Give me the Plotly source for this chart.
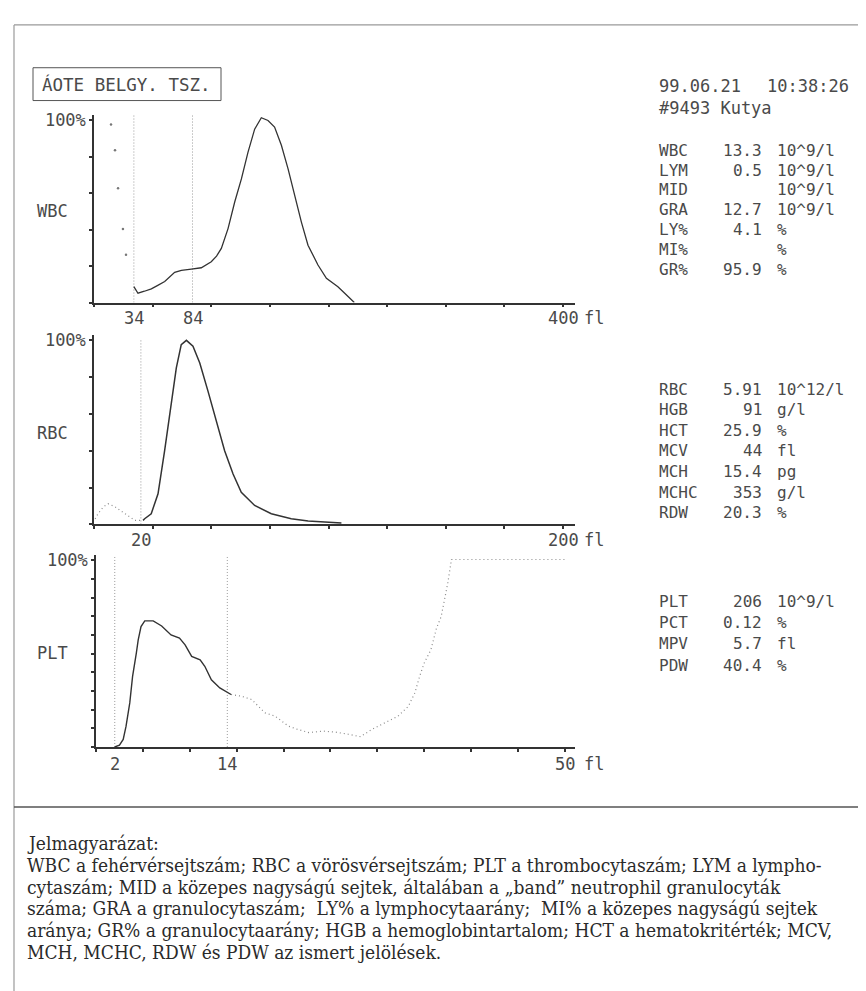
import plotly.graph_objects as go

# ---------------- data ----------------
wbc_x = [34, 37.5, 43, 48.9, 54, 60.3, 68.8, 74.5, 83, 91.5, 100, 104.5, 108.6, 114.3, 120, 125.7,
         131.3, 137, 142.7, 148.4, 154, 159.8, 165.5, 171.2, 176.8, 182.5, 191, 198.2, 208, 213.8,
         219.5, 222]
wbc_y = [8.7, 5.1, 6.2, 7.5, 9.3, 11.5, 16.6, 17.7, 18.4, 19.1, 22.4, 25.5, 29.7, 40.6, 55.2, 67.9,
         82.5, 95.2, 101.5, 100, 96.4, 86.4, 73.4, 58.8, 44.3, 31.5, 20.6, 13.3, 8.7, 5.1, 1.5, 0]
wbc_dot_x = [14.5, 17.9, 20.5, 24.7, 27.3]
wbc_dot_y = [97.8, 83.6, 62.8, 40.4, 26.2]
wbc_thresholds = [34, 84]

rbc_dot_x = [0.5, 1.7, 4, 6, 8.8, 11, 13.1, 15.5, 17.4, 20.9]
rbc_dot_y = [3, 5.8, 9.5, 11.2, 9.7, 7.8, 5.8, 3.8, 2.2, 2.2]
rbc_x = [20.9, 21.6, 24.4, 27.3, 30.1, 33, 35.1, 37.2, 39.4, 42.2, 45.1, 48.6, 52.2, 55.7, 59.3,
         62.8, 68.5, 75.6, 84.1, 91.3, 105.5]
rbc_y = [2.2, 3.1, 5.8, 16.6, 40, 67, 85, 97.7, 100, 96.8, 87.7, 72.4, 56.2, 40, 27.4,
         17.5, 10.3, 5.8, 3.1, 1.8, 0.7]
rbc_thresholds = [20]

plt_x = [2.0, 2.5, 2.9, 3.2, 3.6, 3.9, 4.3, 4.5, 4.8, 5.2, 6.1, 7.0, 8.0, 8.9, 9.5, 10.2, 11.1,
         11.6, 12.3, 13.2, 14.4]
plt_y = [0, 1, 4, 11, 23.6, 37.8, 50.3, 57.4, 64.5, 67.5, 67.5, 64.8, 60, 58.3, 54.7, 48.5, 46.7,
         43.2, 36, 31.6, 28.1]
plt_dot_x = [14.4, 15.5, 16.6, 18.0, 19.1, 20.5, 21.5, 22.7, 24.2, 25.5, 26.9, 28.2, 29.4, 30.8,
             32.2, 33.3, 34.0, 34.5, 35.0, 35.7, 36.3, 36.8, 37.2, 37.5, 37.9, 50]
plt_dot_y = [28.1, 27.2, 25.4, 18.3, 16.5, 11.2, 9.4, 7.7, 8.5, 8.0, 6.8, 5.5, 9.4, 13, 16.5,
             21.8, 29, 37.8, 45, 52, 63.6, 69.8, 80.4, 87.6, 100.4, 100.4]
plt_thresholds = [2, 14]

wbc_xticks = [0, 50, 100, 150, 200, 250, 300, 350, 400]
rbc_xticks = [0, 25, 50, 75, 100, 125, 150, 175, 200]
plt_xticks = [0, 5, 10, 15, 20, 25, 30, 35, 40, 45, 50]
wbc_yticks = [0, 20, 40, 60, 80, 100]
plt_yticks = [0, 10, 20, 30, 40, 50, 60, 70, 80, 90, 100]
top_label = "100%"

wbc_xlabels = ["34", "84", "400"]
wbc_xlabel_pos = [34, 84, 400]
rbc_xlabels = ["20", "200"]
rbc_xlabel_pos = [20, 200]
plt_xlabels = ["2", "14", "50"]
plt_xlabel_pos = [2, 14, 50]
unit_label = "fl"
panel_names = ["WBC", "RBC", "PLT"]

header_box = "ÁOTE BELGY. TSZ."
date_text = "99.06.21"
time_text = "10:38:26"
sample_text = "#9493 Kutya"

wbc_names = ["WBC", "LYM", "MID", "GRA", "LY%", "MI%", "GR%"]
wbc_vals = ["13.3", "0.5", "", "12.7", "4.1", "", "95.9"]
wbc_units = ["10^9/l", "10^9/l", "10^9/l", "10^9/l", "%", "%", "%"]
rbc_names = ["RBC", "HGB", "HCT", "MCV", "MCH", "MCHC", "RDW"]
rbc_vals = ["5.91", "91", "25.9", "44", "15.4", "353", "20.3"]
rbc_units = ["10^12/l", "g/l", "%", "fl", "pg", "g/l", "%"]
plt_names = ["PLT", "PCT", "MPV", "PDW"]
plt_vals = ["206", "0.12", "5.7", "40.4"]
plt_units = ["10^9/l", "%", "fl", "%"]

caption_lines = [
    "Jelmagyarázat:",
    "WBC a fehérvérsejtszám; RBC a vörösvérsejtszám; PLT a thrombocytaszám; LYM a lympho-",
    "cytaszám; MID a közepes nagyságú sejtek, általában a „band” neutrophil granulocyták",
    "száma; GRA a granulocytaszám;  LY% a lymphocytaarány;  MI% a közepes nagyságú sejtek",
    "aránya; GR% a granulocytaarány; HGB a hemoglobintartalom; HCT a hematokritérték; MCV,",
    "MCH, MCHC, RDW és PDW az ismert jelölések.",
]

# ---------------- layout helpers ----------------
W, H = 866, 991
def px(x):
    return x / W
def py(y):
    return 1 - y / H

MONO = "DejaVu Sans Mono"
TXT = "#4a4a4a"
CURVE = "#333333"
AX = "#333333"
DOT = "#8a8a8a"

fig = go.Figure()

def vlines(xs, top, xa, ya):
    for v in xs:
        fig.add_trace(go.Scatter(x=[v, v], y=[0, top], mode="lines", xaxis=xa, yaxis=ya,
                                 line=dict(color="#9a9a9a", width=1, dash="1px,2px"),
                                 hoverinfo="skip", showlegend=False))

# WBC
vlines(wbc_thresholds, 103, "x", "y")
fig.add_trace(go.Scatter(x=wbc_dot_x, y=wbc_dot_y, mode="markers", xaxis="x", yaxis="y",
                         marker=dict(color="#777", size=2.5), showlegend=False))
fig.add_trace(go.Scatter(x=wbc_x, y=wbc_y, mode="lines", xaxis="x", yaxis="y",
                         line=dict(color=CURVE, width=1.3), showlegend=False))
# RBC
vlines(rbc_thresholds, 101, "x2", "y2")
fig.add_trace(go.Scatter(x=rbc_dot_x, y=rbc_dot_y, mode="lines", xaxis="x2", yaxis="y2",
                         line=dict(color=DOT, width=1.2, dash="1px,3px"), showlegend=False))
fig.add_trace(go.Scatter(x=rbc_x, y=rbc_y, mode="lines", xaxis="x2", yaxis="y2",
                         line=dict(color=CURVE, width=1.5), showlegend=False))
# PLT
vlines(plt_thresholds, 102.5, "x3", "y3")
fig.add_trace(go.Scatter(x=plt_dot_x, y=plt_dot_y, mode="lines", xaxis="x3", yaxis="y3",
                         line=dict(color=DOT, width=1.2, dash="1px,3px"), showlegend=False))
fig.add_trace(go.Scatter(x=plt_x, y=plt_y, mode="lines", xaxis="x3", yaxis="y3",
                         line=dict(color=CURVE, width=1.4), showlegend=False))

def xax(dom, rng, ticks, anchor):
    return dict(domain=dom, range=rng, tickvals=ticks, showticklabels=False, ticks="outside",
                ticklen=3, tickwidth=1.5, tickcolor=AX, showline=True, linecolor=AX,
                linewidth=1.5, showgrid=False, zeroline=False, anchor=anchor, fixedrange=True)

def yax(dom, rng, ticks, anchor):
    txt = [""] * (len(ticks) - 1) + [top_label]
    return dict(domain=dom, range=rng, tickvals=ticks, ticktext=txt, ticks="outside",
                ticklen=3, tickwidth=1.5, tickcolor=AX, showline=True, linecolor=AX,
                linewidth=1.5, showgrid=False, zeroline=False, anchor=anchor,
                tickfont=dict(family=MONO, size=17, color=TXT), fixedrange=True)

x_dom = [px(86), px(567)]
x3_dom = [px(88), px(567)]
fig.update_layout(
    xaxis=xax(x_dom, [0, 410.2], wbc_xticks, "y"),
    yaxis=yax([py(291), py(291 - 103 * 1.83)], [0, 103], wbc_yticks, "x"),
    xaxis2=xax(x_dom, [0, 205.1], rbc_xticks, "y2"),
    yaxis2=yax([py(514), py(514 - 103 * 1.85)], [0, 103], wbc_yticks, "x2"),
    xaxis3=xax(x3_dom, [0, 51.07], plt_xticks, "y3"),
    yaxis3=yax([py(737.7), py(737.7 - 103 * 1.877)], [0, 103], plt_yticks, "x3"),
)

ann = []
def text(x, y, s, anchor="left", size=16, family=MONO, color=TXT, xref="paper"):
    ann.append(dict(x=x if xref != "paper" else px(x), y=py(y), xref=xref, yref="paper",
                    text=s.replace(" ", "\u00a0"), showarrow=False, xanchor=anchor,
                    yanchor="middle", font=dict(family=family, size=size, color=color)))

# x labels
for lab, pos in zip(wbc_xlabels, wbc_xlabel_pos):
    text(pos, 307, lab, "center", xref="x", size=17)
for lab, pos in zip(rbc_xlabels, rbc_xlabel_pos):
    text(pos, 530, lab, "center", xref="x2", size=17)
for lab, pos in zip(plt_xlabels, plt_xlabel_pos):
    text(pos, 755, lab, "center", xref="x3", size=17)
for yy in (307, 530, 755):
    text(574, yy, unit_label, size=17)

# panel names
for name, yy in zip(panel_names, [199, 422, 643]):
    text(27, yy, name, size=17)

# header box
text(32, 71.5, header_box, size=17.5)

# right column
LX, VX, UX = 649, 756, 767
text(LX, 73, date_text, size=17)
text(757, 73, time_text, size=17)
text(LX, 95, sample_text, size=17)

def block(names, vals, units, y0, dy):
    for i, (n, v, u) in enumerate(zip(names, vals, units)):
        yy = y0 + i * dy
        text(LX, yy, n)
        if v:
            text(VX, yy, v, "right")
        text(UX, yy, u)

block(wbc_names, wbc_vals, wbc_units, 138, 19.9)
block(rbc_names, rbc_vals, rbc_units, 378, 20.7)
block(plt_names, plt_vals, plt_units, 591, 21.5)

# caption
for i, line in enumerate(caption_lines):
    text(17, 834 + i * 22, line, size=19, family="DejaVu Serif Condensed, Liberation Serif",
         color="#2a2a2a")

shapes = [
    dict(type="line", xref="paper", yref="paper", x0=px(6), x1=px(866), y0=py(12), y1=py(12),
         line=dict(color="#9a9a9a", width=1.2)),
    dict(type="line", xref="paper", yref="paper", x0=px(6), x1=px(6), y0=py(12), y1=py(991),
         line=dict(color="#9a9a9a", width=1.2)),
    dict(type="line", xref="paper", yref="paper", x0=px(6), x1=px(866), y0=py(798), y1=py(798),
         line=dict(color="#555", width=1.5)),
    dict(type="rect", xref="paper", yref="paper", x0=px(25), x1=px(213), y0=py(88), y1=py(55),
         line=dict(color="#555", width=1)),
]

fig.update_layout(width=W, height=H, margin=dict(l=0, r=0, t=0, b=0),
                  paper_bgcolor="white", plot_bgcolor="white", showlegend=False,
                  annotations=ann, shapes=shapes)

fig.write_html("out.html")
